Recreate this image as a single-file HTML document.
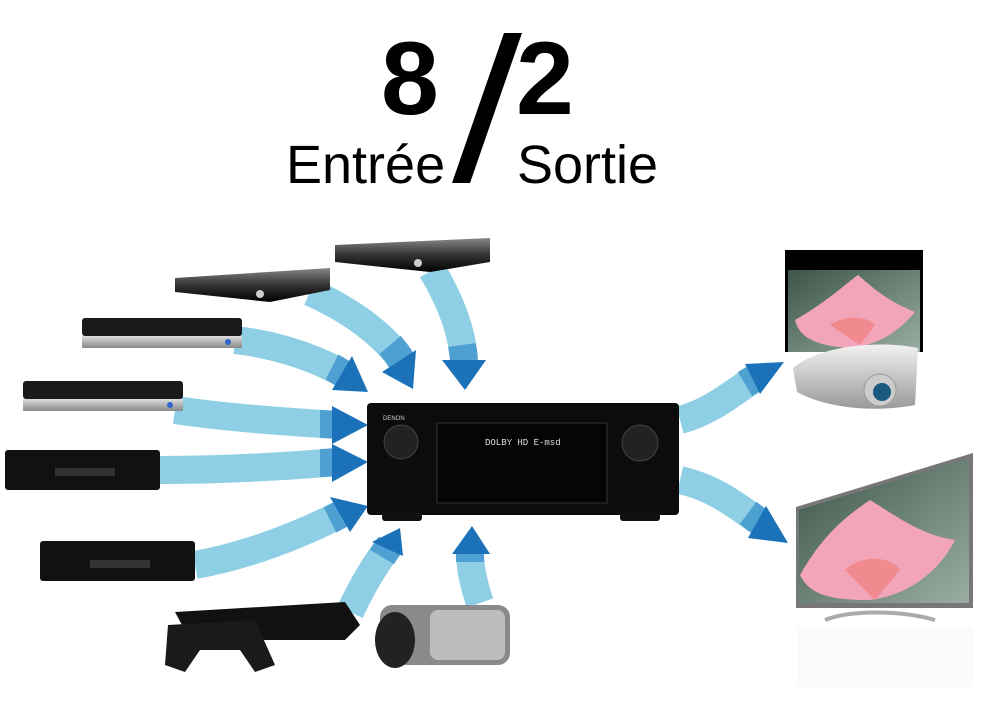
<!DOCTYPE html>
<html><head><meta charset="utf-8"><style>
html,body{margin:0;padding:0;background:#fff;}
svg{display:block}
</style></head><body>
<svg width="989" height="723" viewBox="0 0 989 723" xmlns="http://www.w3.org/2000/svg">
<defs>
<linearGradient id="dev" x1="0" y1="0" x2="0" y2="1"><stop offset="0" stop-color="#888"/><stop offset="0.5" stop-color="#333"/><stop offset="1" stop-color="#000"/></linearGradient>
<linearGradient id="sil" x1="0" y1="0" x2="0" y2="1"><stop offset="0" stop-color="#ddd"/><stop offset="1" stop-color="#888"/></linearGradient>
<linearGradient id="scr" x1="0" y1="0" x2="1" y2="1"><stop offset="0" stop-color="#3c5548"/><stop offset="1" stop-color="#9aaea4"/></linearGradient>
<linearGradient id="proj" x1="0" y1="0" x2="0" y2="1"><stop offset="0" stop-color="#f2f2f2"/><stop offset="1" stop-color="#9a9a9a"/></linearGradient>
</defs>

<!-- Title -->
<g font-family="Liberation Sans, sans-serif" fill="#000">
<text x="381" y="114" font-size="104" font-weight="bold">8</text>
<text x="516" y="114" font-size="104" font-weight="bold">2</text>
<text x="286" y="183" font-size="54">Entrée</text>
<text x="517" y="183" font-size="54">Sortie</text>
</g>
<polygon points="452,183 470,183 522,33 504,33" fill="#000"/>

<!-- Arrows -->
<g fill="none" stroke="#8ecfe6" stroke-width="28" stroke-linecap="butt">
<path d="M432,270 C450,300 462,330 464,360"/>
<path d="M310,292 C350,310 385,335 402,362"/>
<path d="M235,340 C280,345 320,360 345,375"/>
<path d="M175,410 C230,418 290,422 338,425"/>
<path d="M160,470 C230,470 290,466 338,462"/>
<path d="M195,565 C250,555 300,535 345,512"/>
<path d="M350,612 C365,580 378,560 390,545"/>
<path d="M480,603 C472,580 470,565 470,548"/>
<path d="M680,420 C710,412 730,395 755,378"/>
<path d="M680,480 C715,488 735,505 760,522"/>
</g>
<g fill="none" stroke="#3d95cc" stroke-width="28" stroke-linecap="butt" opacity="0.8">
<path d="M462,345 C463,352 464,356 464,362"/>
<path d="M390,345 C396,352 400,357 402,362"/>
<path d="M332,367 C338,370 342,373 345,375"/>
<path d="M320,424 C328,424 333,425 338,425"/>
<path d="M320,463 C328,463 333,462 338,462"/>
<path d="M330,520 C336,517 341,514 345,512"/>
<path d="M382,557 C385,552 388,548 390,545"/>
<path d="M470,562 C470,557 470,552 470,548"/>
<path d="M745,384 C750,381 752,380 755,378"/>
<path d="M748,513 C752,516 756,519 760,522"/>
</g>
<g fill="#1b72b8">
<polygon points="442,360 486,360 465,390"/>
<polygon points="382,372 416,350 413,389"/>
<polygon points="332,390 352,356 368,392"/>
<polygon points="332,406 332,444 368,425"/>
<polygon points="332,444 332,482 368,462"/>
<polygon points="330,497 350,532 368,506"/>
<polygon points="372,542 403,556 400,528"/>
<polygon points="452,554 490,554 472,526"/>
<polygon points="745,364 760,394 784,362"/>
<polygon points="748,538 766,506 788,543"/>
</g>

<!-- Left devices -->
<polygon points="335,245 490,238 490,262 430,272 335,262" fill="url(#dev)"/>
<circle cx="418" cy="263" r="4" fill="#ccc"/>
<polygon points="175,278 330,268 330,290 270,302 175,292" fill="url(#dev)"/>
<circle cx="260" cy="294" r="4" fill="#ccc"/>
<rect x="82" y="318" width="160" height="18" rx="3" fill="#1a1a1a"/>
<rect x="82" y="336" width="160" height="12" fill="url(#sil)"/>
<circle cx="228" cy="342" r="3" fill="#36c"/>
<rect x="23" y="381" width="160" height="18" rx="3" fill="#1a1a1a"/>
<rect x="23" y="399" width="160" height="12" fill="url(#sil)"/>
<circle cx="170" cy="405" r="3" fill="#36c"/>
<rect x="5" y="450" width="155" height="40" rx="3" fill="#111"/>
<rect x="55" y="468" width="60" height="8" fill="#333"/>
<rect x="40" y="541" width="155" height="40" rx="3" fill="#111"/>
<rect x="90" y="560" width="60" height="8" fill="#333"/>
<!-- PS3 -->
<polygon points="175,612 345,602 360,625 345,640 190,640" fill="#111"/>
<path d="M168,625 L255,620 L275,665 L255,672 L240,650 L200,650 L185,672 L165,665 Z" fill="#1a1a1a"/>
<!-- camcorder -->
<rect x="380" y="605" width="130" height="60" rx="12" fill="#8a8a8a"/>
<ellipse cx="395" cy="640" rx="20" ry="28" fill="#222"/>
<rect x="430" y="610" width="75" height="50" rx="8" fill="#bdbdbd"/>

<!-- Receiver -->
<rect x="367" y="403" width="312" height="112" rx="4" fill="#0c0c0c"/>
<rect x="382" y="513" width="40" height="8" rx="3" fill="#111"/>
<rect x="620" y="513" width="40" height="8" rx="3" fill="#111"/>
<circle cx="401" cy="442" r="17" fill="#222" stroke="#444"/>
<circle cx="640" cy="443" r="18" fill="#222" stroke="#444"/>
<rect x="437" y="423" width="170" height="80" fill="#050505" stroke="#333"/>
<text x="485" y="445" font-family="Liberation Mono, monospace" font-size="9" fill="#ddd">DOLBY HD  E-msd</text>
<text x="383" y="420" font-family="Liberation Sans, sans-serif" font-size="6" fill="#ccc">DENON</text>

<!-- Projector screen -->
<rect x="785" y="250" width="138" height="102" fill="#000"/>
<rect x="788" y="270" width="132" height="82" fill="url(#scr)"/>
<path d="M795,320 C830,300 850,280 858,275 C870,285 885,300 915,312 C900,330 880,345 850,348 C820,346 800,340 795,320Z" fill="#f2a5b8"/>
<path d="M830,325 C845,315 865,315 875,325 L860,345 Z" fill="#f08a8e"/>
<path d="M793,368 C820,345 880,340 918,348 L915,405 C880,412 830,410 797,392 Z" fill="url(#proj)"/>
<circle cx="880" cy="390" r="16" fill="#ccc" stroke="#999"/>
<circle cx="882" cy="392" r="9" fill="#1a5a80"/>

<!-- TV -->
<polygon points="796,507 973,453 973,608 796,608" fill="#777"/>
<polygon points="799,510 969,458 969,603 799,603" fill="url(#scr)"/>
<path d="M800,575 C820,540 840,520 870,500 C895,515 920,535 955,540 C940,570 910,595 870,600 C830,600 810,595 800,575Z" fill="#f2a5b8"/>
<path d="M845,570 C860,555 890,555 900,570 L875,600 Z" fill="#f08a8e"/>
<path d="M825,620 C850,610 900,610 935,620" stroke="#aaa" stroke-width="4" fill="none"/>
<rect x="797" y="627" width="176" height="60" fill="#f7f7f7" opacity="0.6"/>
</svg>
</body></html>
